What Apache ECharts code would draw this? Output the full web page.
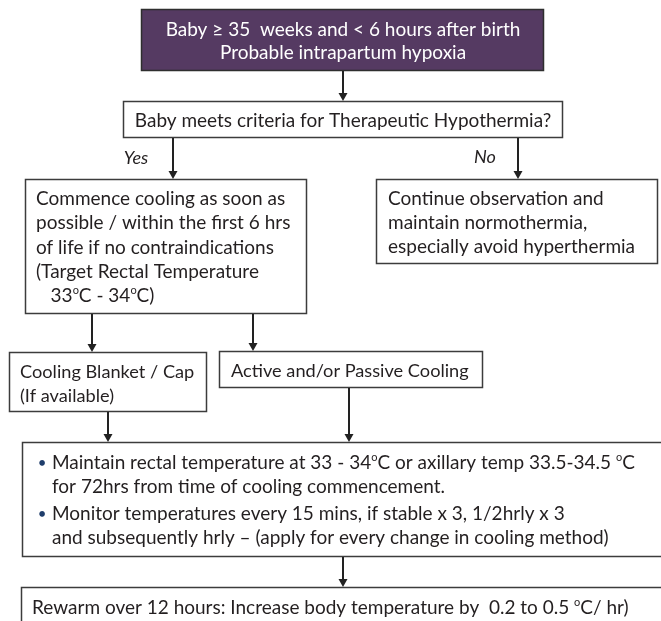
<!DOCTYPE html>
<html>
<head>
<meta charset="utf-8">
<script src="https://cdn.jsdelivr.net/npm/echarts@6/dist/echarts.min.js"></script>
<style>
html,body{margin:0;padding:0;background:#fff;}
#c{width:661px;height:621px;}
</style>
</head>
<body>
<div id="c"></div>
<script>
// ---- content ----
const titleLines = ['Baby \u2265 35  weeks and < 6 hours after birth', 'Probable intrapartum hypoxia'];
const questionLines = ['Baby meets criteria for Therapeutic Hypothermia?'];
const branchLabels = ['Yes', 'No'];
const yesLines = ['Commence cooling as soon as', 'possible / within the first 6 hrs', 'of life if no contraindications', '(Target Rectal Temperature', '   33{o}C - 34{o}C)'];
const noLines = ['Continue observation and', 'maintain normothermia,', 'especially avoid hyperthermia'];
const methodALines = ['Cooling Blanket / Cap', '(If available)'];
const methodBLines = ['Active and/or Passive Cooling'];
const maintainBullets = [
  ['Maintain rectal temperature at 33 - 34{o}C or axillary temp 33.5-34.5 {o}C', 'for 72hrs from time of cooling commencement.'],
  ['Monitor temperatures every 15 mins, if stable x 3, 1/2hrly x 3', 'and subsequently hrly \u2013 (apply for every change in cooling method)']
];
const rewarmLines = ['Rewarm over 12 hours: Increase body temperature by  0.2 to 0.5 {o}C/ hr)'];

// ---- layout / style ----
const FONT_FAMILY = 'Lato, "Noto Sans", sans-serif';
const FS = 19;
const TEXT = '#231f20';
const BORDER = '#3c3c3c';
const PURPLE = '#553a62';

const els = [];
function conv(s) { return s.replace(/\{o\}/g, '{sup|o}'); }
function rect(x, y, w, h, fill) {
  els.push({ type: 'rect', shape: { x: x, y: y, width: w, height: h },
    style: { fill: fill || '#fff', stroke: fill ? '#2e2e2e' : BORDER, lineWidth: 1.5 }, z: 1 });
}
function text(str, x, y, opts) {
  opts = opts || {};
  const fs = opts.fs || FS;
  els.push({ type: 'text', x: x, y: y, z: 3,
    style: {
      text: conv(str),
      fill: opts.color || TEXT,
      fontFamily: FONT_FAMILY,
      fontSize: fs,
      fontStyle: opts.italic ? 'italic' : 'normal',
      textAlign: opts.align || 'left',
      textVerticalAlign: 'middle',
      lineHeight: 22,
      rich: {
        sup: { fontSize: 11, fontFamily: FONT_FAMILY, fill: opts.color || TEXT, verticalAlign: 'top', lineHeight: 22, padding: [0, 0, 9, 0] }
      }
    } });
}
function lines(arr, x, y0, dy, opts) {
  arr.forEach((s, i) => text(s, x, y0 + i * dy, opts));
}
function arrow(x, y1, y2) {
  els.push({ type: 'line', shape: { x1: x, y1: y1, x2: x, y2: y2 - 6 },
    style: { stroke: '#222', lineWidth: 2 }, z: 2 });
  els.push({ type: 'polygon', shape: { points: [[x - 4.5, y2 - 8], [x + 4.5, y2 - 8], [x, y2]] },
    style: { fill: '#222' }, z: 2 });
}

// boxes
rect(141.5, 9.5, 402, 61, PURPLE);
lines(titleLines, 343, 30, 23, { align: 'center', color: '#ffffff' });

rect(123.5, 101.5, 439, 36);
lines(questionLines, 343, 121, 24, { align: 'center' });

text(branchLabels[0], 136, 158, { italic: true, align: 'center', fs: 18 });
text(branchLabels[1], 485, 157, { italic: true, align: 'center', fs: 18 });

rect(25.5, 179.5, 281, 134);
lines(yesLines, 36, 199, 24.3);

rect(376.5, 179.5, 281, 84);
lines(noLines, 388, 199, 24);

rect(9.5, 352.5, 197, 59);
lines(methodALines, 20, 372, 24, { fs: 18.2 });

rect(219.5, 351.5, 263, 36);
lines(methodBLines, 231, 371, 24, { fs: 18.2 });

rect(22.5, 442.5, 660, 114);
maintainBullets.forEach((pair, i) => {
  const y0 = [463, 514][i];
  text('\u2022', 42, y0, { align: 'center', color: '#1f3d6b', fs: 15 });
  lines(pair, 52, y0, 24);
});

rect(21.5, 587.5, 660, 60);
lines(rewarmLines, 32, 608, 24);

// connectors
arrow(343, 71, 101);
arrow(173, 138, 179);
arrow(518, 138, 179);
arrow(92, 314, 352);
arrow(253, 314, 351);
arrow(108, 412, 442);
arrow(349, 388, 442);
arrow(343, 557, 587);

const chart = echarts.init(document.getElementById('c'), null, { renderer: 'canvas' });
chart.setOption({
  animation: false,
  backgroundColor: '#ffffff',
  graphic: { elements: els }
});
</script>
</body>
</html>
